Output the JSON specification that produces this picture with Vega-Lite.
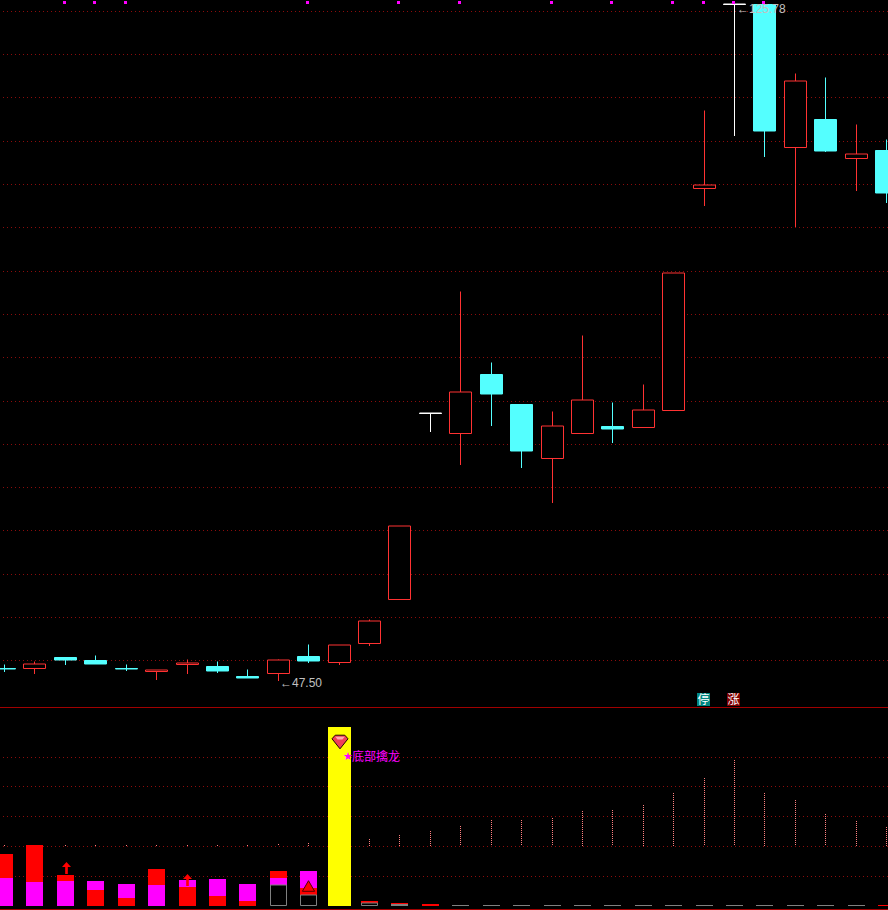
{
"$schema":"https://vega.github.io/schema/vega-lite/v6.json",
"background":"#000000","padding":0,"spacing":0,
"config":{"view":{"stroke":null},"concat":{"spacing":0}},
"datasets":{
"candles":[
{"i":0,"open":49.00,"close":48.89,"high":49.47,"low":48.54,"dir":"down"},
{"i":1,"open":49.00,"close":49.47,"high":49.81,"low":48.31,"dir":"up"},
{"i":2,"open":50.27,"close":49.93,"high":50.27,"low":49.35,"dir":"down"},
{"i":3,"open":49.93,"close":49.47,"high":50.51,"low":49.47,"dir":"down"},
{"i":4,"open":49.00,"close":48.89,"high":49.47,"low":48.66,"dir":"down"},
{"i":5,"open":48.66,"close":48.77,"high":48.77,"low":47.62,"dir":"up"},
{"i":6,"open":49.47,"close":49.58,"high":50.04,"low":48.31,"dir":"up"},
{"i":7,"open":49.23,"close":48.66,"high":49.81,"low":48.43,"dir":"down"},
{"i":8,"open":48.08,"close":47.85,"high":48.89,"low":47.85,"dir":"down"},
{"i":9,"open":48.43,"close":49.93,"high":50.04,"low":47.50,"dir":"up"},
{"i":10,"open":50.39,"close":49.81,"high":51.78,"low":49.58,"dir":"down"},
{"i":11,"open":49.70,"close":51.66,"high":51.66,"low":49.35,"dir":"up"},
{"i":12,"open":51.89,"close":54.44,"high":54.67,"low":51.55,"dir":"up"},
{"i":13,"open":56.98,"close":65.42,"high":65.42,"low":56.98,"dir":"up"},
{"i":14,"open":78.48,"close":78.48,"high":78.48,"low":76.28,"dir":"flat"},
{"i":15,"open":76.17,"close":80.91,"high":92.58,"low":72.47,"dir":"up"},
{"i":16,"open":82.99,"close":80.68,"high":84.38,"low":76.98,"dir":"down"},
{"i":17,"open":79.52,"close":74.09,"high":79.52,"low":72.12,"dir":"down"},
{"i":18,"open":73.28,"close":76.98,"high":78.71,"low":68.08,"dir":"up"},
{"i":19,"open":76.17,"close":79.98,"high":87.50,"low":76.17,"dir":"up"},
{"i":20,"open":76.98,"close":76.63,"high":79.75,"low":75.01,"dir":"down"},
{"i":21,"open":76.86,"close":78.83,"high":81.83,"low":76.86,"dir":"up"},
{"i":22,"open":78.83,"close":94.67,"high":94.67,"low":78.83,"dir":"up"},
{"i":23,"open":104.49,"close":104.84,"high":113.51,"low":102.41,"dir":"up"},
{"i":24,"open":125.78,"close":125.78,"high":125.78,"low":110.50,"dir":"flat"},
{"i":25,"open":125.78,"close":111.08,"high":125.78,"low":108.07,"dir":"down"},
{"i":26,"open":109.23,"close":116.86,"high":117.79,"low":99.98,"dir":"up"},
{"i":27,"open":112.47,"close":108.77,"high":117.32,"low":108.65,"dir":"down"},
{"i":28,"open":107.96,"close":108.42,"high":111.89,"low":104.14,"dir":"up"},
{"i":29,"open":108.88,"close":103.91,"high":110.16,"low":102.76,"dir":"down"}
],
"priceGrid":[{"p":124.95},{"p":119.98},{"p":115.01},{"p":109.92},{"p":104.95},{"p":99.98},{"p":94.90},{"p":89.93},{"p":84.95},{"p":79.87},{"p":74.90},{"p":69.93},{"p":64.96},{"p":59.87},{"p":54.90},{"p":49.93}],
"flags":[{"i":2,"p":125.99},{"i":3,"p":125.99},{"i":4,"p":125.99},{"i":10,"p":125.99},{"i":13,"p":125.99},{"i":15,"p":125.99},{"i":18,"p":125.99},{"i":20,"p":125.99},{"i":22,"p":125.99},{"i":23,"p":125.99},{"i":24,"p":125.99},{"i":25,"p":125.99}],
"vol":[
{"i":0,"v":61},{"i":1,"v":61},{"i":2,"v":61},{"i":3,"v":61},{"i":4,"v":61},{"i":5,"v":61},{"i":6,"v":61},{"i":7,"v":61},{"i":8,"v":61},{"i":9,"v":62},{"i":10,"v":63},{"i":12,"v":67},{"i":13,"v":71},{"i":14,"v":75},{"i":15,"v":80},{"i":16,"v":86},{"i":17,"v":86},{"i":18,"v":88},{"i":19,"v":95},{"i":20,"v":96},{"i":21,"v":101},{"i":22,"v":113},{"i":23,"v":128},{"i":24,"v":146},{"i":25,"v":113},{"i":26,"v":106},{"i":27,"v":92},{"i":28,"v":85},{"i":29,"v":79}
],
"segs":[
{"i":0,"a":0,"b":28,"c":"m"},{"i":0,"a":28,"b":52,"c":"r"},
{"i":1,"a":0,"b":24,"c":"m"},{"i":1,"a":24,"b":61,"c":"r"},
{"i":2,"a":0,"b":25,"c":"m"},{"i":2,"a":25,"b":31,"c":"r"},
{"i":3,"a":0,"b":16,"c":"r"},{"i":3,"a":16,"b":25,"c":"m"},
{"i":4,"a":0,"b":8,"c":"r"},{"i":4,"a":8,"b":22,"c":"m"},
{"i":5,"a":0,"b":21,"c":"m"},{"i":5,"a":21,"b":37,"c":"r"},
{"i":6,"a":0,"b":19,"c":"r"},{"i":6,"a":19,"b":26,"c":"m"},
{"i":7,"a":0,"b":10,"c":"r"},{"i":7,"a":10,"b":27,"c":"m"},
{"i":8,"a":0,"b":5,"c":"r"},{"i":8,"a":5,"b":22,"c":"m"},
{"i":9,"a":21,"b":28,"c":"m"},{"i":9,"a":28,"b":35,"c":"r"},
{"i":10,"a":11,"b":18,"c":"r"},{"i":10,"a":18,"b":35,"c":"m"},
{"i":12,"a":3,"b":5,"c":"r"},
{"i":13,"a":0,"b":2,"c":"g"},{"i":13,"a":2,"b":3,"c":"r"},
{"i":14,"a":0,"b":2,"c":"r"},
{"i":15,"a":0,"b":1,"c":"g"},{"i":16,"a":0,"b":1,"c":"g"},{"i":17,"a":0,"b":1,"c":"g"},{"i":18,"a":0,"b":1,"c":"g"},{"i":19,"a":0,"b":1,"c":"g"},{"i":20,"a":0,"b":1,"c":"g"},{"i":21,"a":0,"b":1,"c":"g"},{"i":22,"a":0,"b":1,"c":"g"},{"i":23,"a":0,"b":1,"c":"g"},{"i":24,"a":0,"b":1,"c":"g"},{"i":25,"a":0,"b":1,"c":"g"},{"i":26,"a":0,"b":1,"c":"g"},{"i":27,"a":0,"b":1,"c":"g"},{"i":28,"a":0,"b":1,"c":"g"},
{"i":29,"a":0,"b":1,"c":"r"}
],
"hollow":[{"i":9,"a":1,"b":21},{"i":10,"a":1,"b":11},{"i":12,"a":1,"b":3}],
"spike":[{"i":11,"a":0,"b":179}],
"lowerGrid":[{"v":149},{"v":120},{"v":90},{"v":60},{"v":30}],
"frame":[{"v":199},{"v":-3}]
},
"vconcat":[
{"width":888,"height":707,"layer":[
{"data":{"name":"priceGrid"},"mark":{"type":"rule","stroke":"#8c0c0c","strokeDash":[1,3],"strokeWidth":1,"yOffset":0.5,"clip":true},
 "encoding":{"y":{"field":"p","type":"quantitative","axis":null,"scale":{"domain":[44.4944,126.2236],"round":true,"nice":false,"zero":false}},
 "x":{"datum":-0.033,"type":"quantitative","axis":null,"scale":{"domain":[-0.1315,29.06],"round":true,"nice":false,"zero":false,"padding":0}},"x2":{"datum":29.06}}},
{"data":{"name":"candles"},"mark":{"type":"rule","strokeWidth":1,"xOffset":0.5,"yOffset":0.5,"clip":true},
 "encoding":{"x":{"field":"i","type":"quantitative"},"y":{"field":"high","type":"quantitative"},"y2":{"field":"low"},
 "stroke":{"field":"dir","type":"nominal","legend":null,"scale":{"domain":["up","down","flat"],"range":["#ff3232","#54ffff","#ffffff"]}}}},
{"data":{"name":"candles"},"mark":{"type":"bar","size":22,"orient":"vertical","strokeWidth":1,"xOffset":0.5,"yOffset":0.5,"clip":true},
 "encoding":{"x":{"field":"i","type":"quantitative"},"y":{"field":"open","type":"quantitative","stack":null},"y2":{"field":"close"},
 "stroke":{"field":"dir","type":"nominal","legend":null,"scale":{"domain":["up","down","flat"],"range":["#ff3232","#54ffff","#ffffff"]}},
 "fill":{"field":"dir","type":"nominal","legend":null,"scale":{"domain":["up","down","flat","停","涨","m","r","g"],"range":["#000000","#54ffff","#ffffff","#008580","#800000","#ff00ff","#ff0000","#808080"]}}}},
{"data":{"name":"flags"},"mark":{"type":"point","shape":"square","filled":true,"size":9,"color":"#ff00ff","stroke":null,"opacity":1,"xOffset":-0.5,"yOffset":0.5},
 "encoding":{"x":{"field":"i","type":"quantitative"},"y":{"field":"p","type":"quantitative"}}},
{"data":{"values":[{"i":9,"p":47.5,"label":"←47.50"}]},"mark":{"type":"text","align":"left","baseline":"middle","dy":2,"dx":2,"font":"Liberation Sans","fontSize":12,"color":"#c0c0c0"},
 "encoding":{"x":{"field":"i","type":"quantitative"},"y":{"field":"p","type":"quantitative"},"text":{"field":"label"}}},
{"data":{"values":[{"i":24,"p":125.78,"label":"←125.78"}]},"mark":{"type":"text","align":"left","baseline":"middle","dy":5,"dx":3,"font":"Liberation Sans","fontSize":12,"color":"#c0c0c0"},
 "encoding":{"x":{"field":"i","type":"quantitative"},"y":{"field":"p","type":"quantitative"},"text":{"field":"label"}}},
{"data":{"values":[{"i":23,"p":45.42,"kind":"停"},{"i":24,"p":45.42,"kind":"涨"}]},"mark":{"type":"point","shape":"square","filled":true,"size":169,"stroke":null,"opacity":1,"xOffset":-0.5,"yOffset":0.5},
 "encoding":{"x":{"field":"i","type":"quantitative"},"y":{"field":"p","type":"quantitative"},
 "fill":{"field":"kind","type":"nominal","legend":null,"scale":{"domain":["up","down","flat","停","涨","m","r","g"],"range":["#000000","#54ffff","#ffffff","#008580","#800000","#ff00ff","#ff0000","#808080"]}}}},
{"data":{"values":[{"i":23,"p":45.42,"kind":"停"},{"i":24,"p":45.42,"kind":"涨"}]},"mark":{"type":"text","align":"center","baseline":"middle","font":"Noto Sans CJK SC","fontSize":12,"color":"#ffffff","xOffset":-0.5,"yOffset":0.5},
 "encoding":{"x":{"field":"i","type":"quantitative"},"y":{"field":"p","type":"quantitative"},"text":{"field":"kind"}}}
]},
{"width":888,"height":203,"layer":[
{"data":{"name":"lowerGrid"},"mark":{"type":"rule","stroke":"#8c0c0c","strokeDash":[1,3],"strokeWidth":1,"yOffset":0.5,"clip":true},
 "encoding":{"y":{"field":"v","type":"quantitative","axis":null,"scale":{"domain":[-4,199],"round":true,"nice":false,"zero":false}},
 "x":{"datum":-0.033,"type":"quantitative","axis":null,"scale":{"domain":[-0.1315,29.06],"round":true,"nice":false,"zero":false,"padding":0}},"x2":{"datum":29.06}}},
{"data":{"name":"frame"},"mark":{"type":"rule","stroke":"#a00000","strokeWidth":1,"yOffset":0.5,"clip":true},
 "encoding":{"y":{"field":"v","type":"quantitative"}}},
{"data":{"name":"vol"},"mark":{"type":"rule","stroke":"#ff8080","strokeDash":[1,1],"strokeWidth":1,"xOffset":0.5,"clip":true},
 "encoding":{"x":{"field":"i","type":"quantitative"},"y":{"field":"v","type":"quantitative"},"y2":{"datum":60}}},
{"data":{"name":"segs"},"mark":{"type":"bar","size":17,"orient":"vertical","xOffset":0.5,"clip":true},
 "encoding":{"x":{"field":"i","type":"quantitative"},"y":{"field":"a","type":"quantitative","stack":null},"y2":{"field":"b"},
 "fill":{"field":"c","type":"nominal","legend":null,"scale":{"domain":["up","down","flat","停","涨","m","r","g"],"range":["#000000","#54ffff","#ffffff","#008580","#800000","#ff00ff","#ff0000","#808080"]}}}},
{"data":{"name":"hollow"},"mark":{"type":"bar","size":16,"orient":"vertical","fill":"#000000","stroke":"#808080","strokeWidth":1,"xOffset":0.5,"yOffset":0.5},
 "encoding":{"x":{"field":"i","type":"quantitative"},"y":{"field":"a","type":"quantitative","stack":null},"y2":{"field":"b"}}},
{"data":{"name":"spike"},"mark":{"type":"bar","size":23,"orient":"vertical","fill":"#ffff00","xOffset":0.5},
 "encoding":{"x":{"field":"i","type":"quantitative"},"y":{"field":"a","type":"quantitative","stack":null},"y2":{"field":"b"}}},
{"data":{"values":[{"i":2.03,"v":38},{"i":6.02,"v":26}]},"mark":{"type":"point","shape":"M0,-1 L0.75,-0.15 L0.22,-0.15 L0.22,1 L-0.22,1 L-0.22,-0.15 L-0.75,-0.15 Z","filled":true,"size":144,"color":"#ff0000","stroke":null,"opacity":1,"xOffset":0.5},
 "encoding":{"x":{"field":"i","type":"quantitative"},"y":{"field":"v","type":"quantitative"}}},
{"data":{"values":[{"i":10,"v":20}]},"mark":{"type":"point","shape":"triangle-up","filled":true,"size":150,"color":"#ff0000","stroke":"#500000","strokeWidth":1,"opacity":1,"xOffset":0.5},
 "encoding":{"x":{"field":"i","type":"quantitative"},"y":{"field":"v","type":"quantitative"}}},
{"data":{"values":[{"i":11.03,"v":164}]},"mark":{"type":"point","shape":"M-1,-0.4 L-0.6,-0.85 L0.6,-0.85 L1,-0.4 L0,0.85 Z","filled":true,"size":256,"color":"#f04058","stroke":"#200000","strokeWidth":1,"opacity":1},
 "encoding":{"x":{"field":"i","type":"quantitative"},"y":{"field":"v","type":"quantitative"}}},
{"data":{"values":[{"i":11.03,"v":164}]},"mark":{"type":"point","shape":"M-0.6,-0.65 L0.6,-0.65 L0.3,-0.3 L-0.3,-0.3 Z","filled":true,"size":256,"color":"#ffa8b0","stroke":null,"opacity":1},
 "encoding":{"x":{"field":"i","type":"quantitative"},"y":{"field":"v","type":"quantitative"}}},
{"data":{"values":[{"i":11.31,"v":149,"s":"★"}]},"mark":{"type":"text","align":"center","baseline":"middle","font":"DejaVu Sans","fontSize":11,"color":"#ff00ff"},
 "encoding":{"x":{"field":"i","type":"quantitative"},"y":{"field":"v","type":"quantitative"},"text":{"field":"s"}}},
{"data":{"values":[{"i":11.43,"v":149,"s":"底部擒龙"}]},"mark":{"type":"text","align":"left","baseline":"middle","font":"Noto Sans CJK SC","fontSize":12,"color":"#ff00ff"},
 "encoding":{"x":{"field":"i","type":"quantitative"},"y":{"field":"v","type":"quantitative"},"text":{"field":"s"}}}
]}
]
}
